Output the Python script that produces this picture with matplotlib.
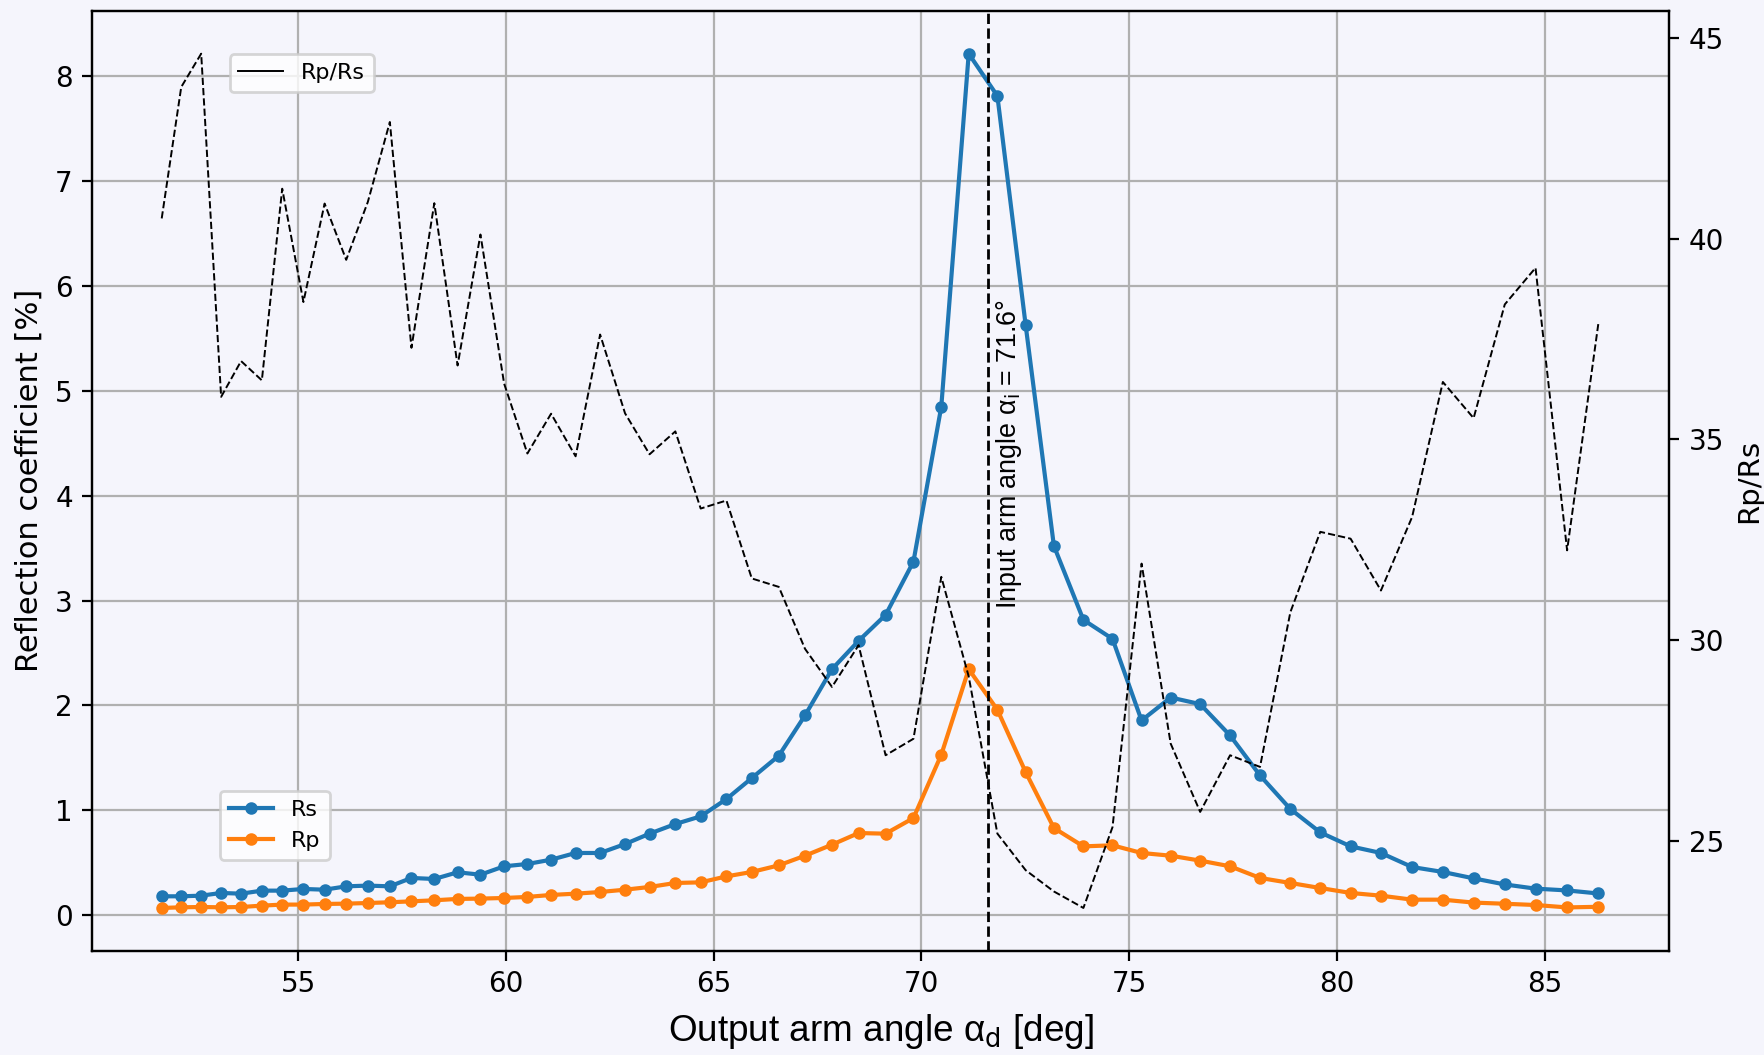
import matplotlib.pyplot as plt
from matplotlib.lines import Line2D

# output arm angle [deg]
angles = [51.72, 52.19, 52.67, 53.15, 53.63, 54.13, 54.62, 55.13, 55.64, 56.16,
          56.68, 57.21, 57.73, 58.28, 58.84, 59.39, 59.96, 60.52, 61.09, 61.68,
          62.27, 62.87, 63.46, 64.08, 64.69, 65.31, 65.92, 66.57, 67.20, 67.85,
          68.49, 69.14, 69.81, 70.48, 71.14, 71.83, 72.51, 73.19, 73.90, 74.60,
          75.30, 76.00, 76.71, 77.43, 78.15, 78.88, 79.60, 80.33, 81.06, 81.81,
          82.55, 83.29, 84.04, 84.78, 85.54, 86.29]

rs = [0.181, 0.181, 0.187, 0.213, 0.206, 0.235, 0.235, 0.251, 0.244, 0.276,
      0.283, 0.276, 0.356, 0.346, 0.410, 0.387, 0.467, 0.489, 0.530, 0.594,
      0.594, 0.679, 0.778, 0.870, 0.943, 1.108, 1.308, 1.521, 1.905, 2.346,
      2.616, 2.863, 3.371, 4.848, 8.213, 7.810, 5.626, 3.521, 2.816, 2.635,
      1.857, 2.076, 2.013, 1.714, 1.333, 1.013, 0.790, 0.657, 0.594, 0.460,
      0.413, 0.352, 0.294, 0.254, 0.237, 0.208]

rp = [0.070, 0.076, 0.079, 0.076, 0.079, 0.092, 0.102, 0.102, 0.108, 0.111,
      0.117, 0.124, 0.133, 0.143, 0.156, 0.159, 0.165, 0.175, 0.194, 0.206,
      0.222, 0.244, 0.270, 0.308, 0.314, 0.371, 0.413, 0.476, 0.568, 0.673,
      0.784, 0.778, 0.927, 1.530, 2.346, 1.959, 1.365, 0.832, 0.657, 0.667,
      0.594, 0.568, 0.521, 0.467, 0.356, 0.308, 0.260, 0.213, 0.187, 0.149,
      0.149, 0.121, 0.110, 0.098, 0.075, 0.081]

ratio = [40.50, 43.77, 44.60, 36.06, 36.95, 36.47, 41.24, 38.42, 40.87, 39.47,
         40.91, 42.90, 37.28, 40.88, 36.84, 40.10, 36.39, 34.65, 35.64, 34.58,
         37.61, 35.65, 34.63, 35.20, 33.28, 33.48, 31.54, 31.33, 29.79, 28.84,
         29.88, 27.14, 27.55, 31.58, 29.10, 25.19, 24.28, 23.75, 23.34, 25.35,
         31.91, 27.43, 25.73, 27.14, 26.85, 30.70, 32.70, 32.53, 31.24, 33.07,
         36.43, 35.53, 38.36, 39.27, 32.24, 37.87]

input_angle = 71.6

bg = "#f5f5fc"

fig = plt.figure(figsize=(8.825, 5.275), dpi=200, facecolor=bg)
ax = fig.add_axes([0.0523, 0.0989, 0.8935, 0.8907])
ax.set_facecolor("none")

ax.plot(angles, rs, ".-", color="#1f77b4", markersize=7, label="Rs")
ax.plot(angles, rp, ".-", color="#ff7f0e", markersize=7, label="Rp")

ax.axvline(input_angle, color="k", linestyle="--", linewidth=1)
ax.text(input_angle + 0.15, 2.92,
        "Input arm angle α$_\\mathrm{i}$ = 71.6°",
        rotation=90, ha="left", va="bottom",
        fontsize=9.7, family="Liberation Sans")

ax.set_xlim(50.05, 88.0)
ax.grid(True)
ax.set_xlabel("Output arm angle α$_\\mathrm{d}$ [deg]",
              fontsize=13.3, family="Liberation Sans", labelpad=5)
ax.set_ylabel("Reflection coefficient [%]", fontsize=11)
ax.tick_params(labelsize=10)

ax.legend(loc="lower left", bbox_to_anchor=(0.081, 0.097),
          borderaxespad=0, fontsize=8)

ax2 = ax.twinx()
ax2.plot(angles, ratio, "k--", linewidth=0.7)
ax2.set_ylabel("Rp/Rs", fontsize=10.5)
ax2.tick_params(labelsize=10)

ax2.legend(handles=[Line2D([], [], color="k", linewidth=0.7)],
           labels=["Rp/Rs"], loc="upper left",
           bbox_to_anchor=(0.087, 0.954), borderaxespad=0, fontsize=8)

fig.savefig("out.png", dpi=200, facecolor=bg)
